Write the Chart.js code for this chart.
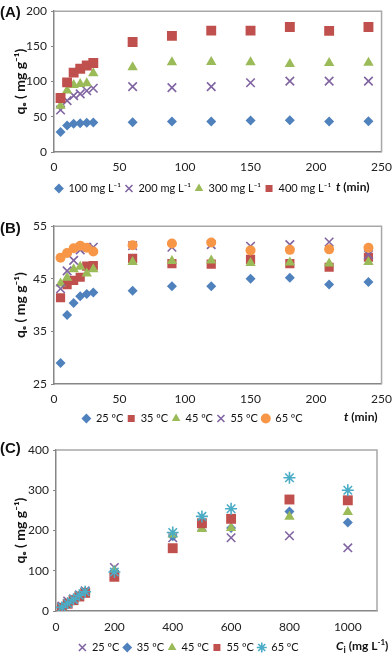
<!DOCTYPE html>
<html>
<head>
<meta charset="utf-8">
<script src="https://cdn.jsdelivr.net/npm/chart.js@4"></script>
<style>
  html, body { margin: 0; padding: 0; background: #fff; overflow: hidden; }
  body { width: 392px; height: 655px; position: relative; font-family: Lato, "Open Sans", sans-serif; }
  canvas { position: absolute; left: 0; }
  .panel { position: absolute; left: 0; font: bold 15px "Liberation Sans", Arial, sans-serif; color: #111; }
  .xname { position: absolute; font: bold 12px Lato, sans-serif; color: #111; white-space: nowrap; }
</style>
</head>
<body>
<canvas id="chartA" width="392" height="215" style="top:0px"></canvas>
<canvas id="chartB" width="392" height="220" style="top:215px"></canvas>
<canvas id="chartC" width="392" height="228" style="top:435px"></canvas>

<div class="panel" style="top:3px">(A)</div>
<div class="panel" style="top:219px">(B)</div>
<div class="panel" style="top:439px">(C)</div>

<div class="xname" style="left:336px; top:179px"><i>t</i> (min)</div>
<div class="xname" style="left:344px; top:409px"><i>t</i> (min)</div>
<div class="xname" style="left:336px; top:637px"><i>C</i><sub style="font-size:9px">i</sub> (mg L<sup style="font-size:8px">-1</sup>)</div>

<script>
// (A) effect of initial concentration, q_e vs t
const timeA = [5, 10, 15, 20, 25, 30, 60, 90, 120, 150, 180, 210, 240];
const qA100 = [28.5, 37.5, 40, 41, 41.5, 42, 42.3, 43.2, 43.2, 44.6, 45, 43.2, 43.7];
const qA200 = [59.7, 73, 80, 82.5, 87, 90.6, 92.9, 91.5, 92.9, 98.4, 100.7, 100.7, 100.7];
const qA300 = [65.8, 87.3, 95.2, 96.6, 97.5, 111.7, 120.5, 127.4, 127.8, 127.4, 125, 126.4, 126.9];
const qA400 = [76.8, 98.9, 112.7, 118.2, 122.8, 126.5, 156.3, 165, 172.4, 172.4, 177.5, 172, 177.5];
const labelsA = ['100 mg L⁻¹', '200 mg L⁻¹', '300 mg L⁻¹', '400 mg L⁻¹'];

// (B) effect of temperature, q_e vs t
const timeB = [5, 10, 15, 20, 25, 30, 60, 90, 120, 150, 180, 210, 240];
const qB25 = [29, 38.1, 40.4, 41.7, 42.1, 42.4, 42.75, 43.6, 43.6, 45, 45.2, 43.9, 44.4];
const qB35 = [41.4, 43.9, 44.7, 45.3, 47.4, 47.5, 48.9, 47.9, 47.8, 48.7, 47.9, 47.2, 49.1];
const qB45 = [44.1, 45.2, 46.8, 47.3, 46, 46.8, 48.2, 48.4, 48.5, 48, 48.1, 47.9, 48.2];
const qB55 = [43.1, 46.5, 48.5, 50.5, 51, 51, 51.3, 51, 51.5, 51.2, 51.5, 52, 49.6];
const qB65 = [49, 49.9, 50.8, 51.3, 50.9, 50.2, 51.4, 51.7, 51.9, 50.4, 50.5, 50.6, 50.9];
const labelsB = ['25 ºC', '35 ºC', '45 ºC', '55 ºC', '65 ºC'];

// (C) q_e vs initial concentration C_i
const concC = [20, 40, 60, 80, 100, 200, 400, 500, 600, 800, 1000];
const qC25 = [12, 25, 30, 40, 50, 108, 182, 210, 182, 187, 157];
const qC35 = [9, 19, 28, 38, 47, 100, 186, 214, 206, 247, 220];
const qC45 = [9, 19, 28, 38, 47, 100, 190, 204, 206, 234, 246];
const qC55 = [8, 18, 27, 36, 45, 85, 156, 218, 229, 277, 275];
const qC65 = [9, 19, 29, 39, 48, 97, 195, 235, 254, 331, 300];
const labelsC = ['25 ºC', '35 ºC', '45 ºC', '55 ºC', '65 ºC'];

const blue = '#4F81BD', red = '#C0504D', green = '#9BBB59',
      purple = '#8064A2', orange = '#F79646', cyan = '#4BACC6';
const FONT = '"Liberation Sans Narrow", Lato, sans-serif';

function pts(xs, ys) {
  return xs.map((x, i) => ({x: x, y: ys[i]}));
}

function series(label, xs, ys, color, style, radius, idx, n) {
  const cross = style === 'crossRot' || style === 'star';
  return {
    label: label,
    data: pts(xs, ys),
    pointStyle: style,
    pointRadius: radius,
    pointHoverRadius: radius,
    backgroundColor: color,
    borderColor: color,
    borderWidth: cross ? 1.6 : 0,
    showLine: false,
    order: n - idx   // later series drawn on top
  };
}

// light frame around the plot area (top + right edges)
const frame = {
  id: 'frame',
  beforeDatasetsDraw(chart) {
    const {ctx, chartArea: a} = chart;
    ctx.save();
    ctx.strokeStyle = '#a8a8a8';
    ctx.lineWidth = 1.5;
    ctx.beginPath();
    ctx.moveTo(a.left, a.top);
    ctx.lineTo(a.right, a.top);
    ctx.lineTo(a.right, a.bottom);
    ctx.stroke();
    ctx.restore();
  }
};

function makeChart(id, datasets, cfg) {
  return new Chart(document.getElementById(id), {
    type: 'scatter',
    data: {datasets: datasets},
    plugins: [frame],
    options: {
      responsive: false,
      animation: false,
      events: [],
      layout: {padding: cfg.padding},
      plugins: {
        tooltip: {enabled: false},
        legend: {
          position: 'bottom',
          labels: {
            usePointStyle: true,
            boxHeight: 7,
            boxWidth: 8,
            padding: 4,
            color: '#111',
            font: {family: FONT, size: 11},
            sort: (a, b) => a.datasetIndex - b.datasetIndex
          }
        }
      },
      scales: {
        x: {
          min: cfg.xMin, max: cfg.xMax,
          grid: {display: false},
          border: {color: '#868686', width: 1.5},
          ticks: {stepSize: cfg.xStep, includeBounds: false, padding: cfg.xPad, color: '#222',
                  font: {family: FONT, size: 12}, callback: v => String(v)},
          afterFit: s => { s.height = cfg.xH; }
        },
        y: {
          min: cfg.yMin, max: cfg.yMax,
          grid: {drawOnChartArea: false, drawTicks: true, tickLength: 3, color: '#868686'},
          border: {color: '#868686', width: 1.5},
          ticks: {stepSize: cfg.yStep, padding: 4, color: '#222', font: {family: FONT, size: 12}},
          title: {display: true, text: 'qₑ ( mg g⁻¹)', color: '#111',
                  font: {family: 'Lato, sans-serif', size: 14, weight: 'bold'}, padding: {top: 12, bottom: 0}},
          afterFit: s => { s.width = cfg.yW; }
        }
      }
    }
  });
}

makeChart('chartA', [
  series(labelsA[0], timeA, qA100, blue, 'rectRot', 5, 0, 4),
  series(labelsA[1], timeA, qA200, purple, 'crossRot', 6, 1, 4),
  series(labelsA[2], timeA, qA300, green, 'triangle', 6, 2, 4),
  series(labelsA[3], timeA, qA400, red, 'rect', 7, 3, 4)
], {padding: {top: 10, right: 6, bottom: 11, left: 0}, xMin: 0, xMax: 250, xStep: 50,
    yMin: 0, yMax: 200, yStep: 50, xH: 27, yW: 54, xPad: 0});

makeChart('chartB', [
  series(labelsB[0], timeB, qB25, blue, 'rectRot', 5, 0, 5),
  series(labelsB[1], timeB, qB35, red, 'rect', 6.5, 1, 5),
  series(labelsB[2], timeB, qB45, green, 'triangle', 6, 2, 5),
  series(labelsB[3], timeB, qB55, purple, 'crossRot', 6, 3, 5),
  series(labelsB[4], timeB, qB65, orange, 'circle', 5, 4, 5)
], {padding: {top: 8, right: 7, bottom: 1, left: 0}, xMin: 0, xMax: 250, xStep: 50,
    yMin: 25, yMax: 55, yStep: 10, xH: 25, yW: 54, xPad: 0});

makeChart('chartC', [
  series(labelsC[0], concC, qC25, purple, 'crossRot', 6, 0, 5),
  series(labelsC[1], concC, qC35, blue, 'rectRot', 5, 1, 5),
  series(labelsC[2], concC, qC45, green, 'triangle', 6, 2, 5),
  series(labelsC[3], concC, qC55, red, 'rect', 7, 3, 5),
  series(labelsC[4], concC, qC65, cyan, 'star', 6, 4, 5)
], {padding: {top: 15, right: 15, bottom: 0, left: 0}, xMin: 0, xMax: 1100, xStep: 200,
    yMin: 0, yMax: 400, yStep: 100, xH: 27, yW: 56, xPad: 1});
</script>
</body>
</html>
